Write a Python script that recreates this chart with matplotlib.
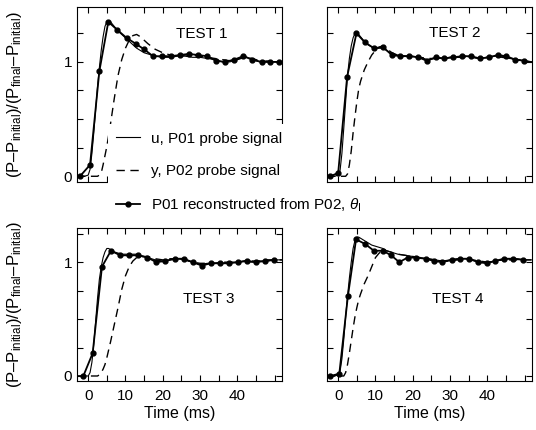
import matplotlib
matplotlib.use("Agg")
import matplotlib.pyplot as plt
from matplotlib.ticker import MultipleLocator

plt.rcParams['font.family'] = ['Liberation Sans', 'DejaVu Sans']
plt.rcParams['mathtext.fontset'] = 'custom'
plt.rcParams['mathtext.rm'] = 'Liberation Sans'
plt.rcParams['mathtext.it'] = 'Liberation Sans:italic'

# ---------------- data ----------------
t_line = [-3, -1, 0, 0.5, 1, 1.5, 2, 2.5, 3, 3.5, 4, 4.5, 5, 5.5, 6, 7, 8, 9, 10, 11,
          12, 13, 14, 15, 16, 18, 20, 22, 24, 26, 28, 30, 32, 34, 36, 38, 40, 42, 44, 46,
          48, 50, 52]

u1 = [0, 0, 0.01, 0.06, 0.2, 0.38, 0.58, 0.78, 0.95, 1.1, 1.22, 1.31, 1.35, 1.36, 1.35, 1.31, 1.27, 1.24, 1.21, 1.18,
      1.15, 1.12, 1.1, 1.08, 1.07, 1.05, 1.04, 1.04, 1.05, 1.05, 1.04, 1.04, 1.03, 1.02, 1.0, 1.0, 1.02, 1.05, 1.02, 1.0,
      1.01, 1.0, 1.0]
y1 = [0, 0, 0, 0, 0, 0, 0, 0, 0.01, 0.03, 0.1, 0.18, 0.26, 0.36, 0.46, 0.68, 0.88, 1.02, 1.12, 1.19,
      1.23, 1.24, 1.22, 1.19, 1.16, 1.11, 1.08, 1.06, 1.05, 1.06, 1.06, 1.05, 1.04, 1.03, 1.02, 1.01, 1.02, 1.04, 1.03, 1.01,
      1.0, 1.0, 1.0]
t_m1 = [-2.2, 0.5, 3.0, 5.4, 7.8, 10.3, 12.7, 15.0, 17.4, 19.8, 22.2, 24.6, 27.0, 29.5, 31.9, 34.3, 36.7, 39.2,
        41.6, 44.0, 46.5, 48.9, 51.3]
m1 = [0.0, 0.1, 0.92, 1.35, 1.28, 1.21, 1.16, 1.11, 1.05, 1.05, 1.05, 1.06, 1.07, 1.06, 1.05, 1.01, 1.0, 1.02,
      1.05, 1.02, 1.0, 1.0, 1.0]

u2 = [0, 0, 0.01, 0.05, 0.2, 0.42, 0.65, 0.88, 1.03, 1.14, 1.21, 1.25, 1.25, 1.24, 1.22, 1.18, 1.15, 1.13, 1.12, 1.12,
      1.12, 1.1, 1.08, 1.07, 1.06, 1.05, 1.05, 1.04, 1.02, 1.03, 1.03, 1.04, 1.04, 1.05, 1.04, 1.03, 1.04, 1.05, 1.05, 1.03,
      1.02, 1.01, 1.0]
y2 = [0, 0, 0, 0, 0, 0, 0, 0.02, 0.1, 0.22, 0.38, 0.52, 0.65, 0.76, 0.83, 0.93, 1.0, 1.06, 1.1, 1.13,
      1.14, 1.12, 1.09, 1.07, 1.06, 1.05, 1.05, 1.04, 1.03, 1.03, 1.03, 1.04, 1.04, 1.04, 1.04, 1.03, 1.04, 1.05, 1.04, 1.03,
      1.02, 1.01, 1.0]
t_m2 = [-2.1, 0.0, 2.4, 4.9, 7.2, 9.6, 12.0, 14.4, 16.7, 19.1, 21.5, 23.8, 26.2, 28.5, 30.9, 33.2, 35.6, 38.0,
        40.4, 42.8, 45.1, 47.5, 49.9]
m2 = [0.0, 0.03, 0.87, 1.25, 1.17, 1.12, 1.13, 1.06, 1.05, 1.05, 1.04, 1.01, 1.04, 1.03, 1.04, 1.05, 1.05, 1.03,
      1.04, 1.06, 1.05, 1.02, 1.01]

u3 = [0, 0, 0, 0.03, 0.12, 0.28, 0.48, 0.68, 0.85, 0.96, 1.04, 1.09, 1.12, 1.12, 1.11, 1.09, 1.08, 1.07, 1.07, 1.07,
      1.07, 1.07, 1.06, 1.05, 1.04, 1.02, 1.01, 1.02, 1.03, 1.02, 1.0, 0.98, 0.99, 0.99, 0.99, 1.0, 1.0, 1.01, 1.0, 1.01,
      1.01, 1.02, 1.02]
y3 = [0, 0, 0, 0, 0, 0, 0, 0, 0.01, 0.03, 0.06, 0.1, 0.16, 0.23, 0.3, 0.45, 0.6, 0.76, 0.88, 0.96,
      1.01, 1.04, 1.05, 1.05, 1.05, 1.03, 1.02, 1.03, 1.03, 1.02, 1.0, 0.99, 0.99, 0.99, 1.0, 1.0, 1.0, 1.01, 1.01, 1.01,
      1.02, 1.02, 1.02]
t_m3 = [-1.3, 1.2, 3.7, 6.1, 8.6, 11.0, 13.4, 15.9, 18.3, 20.7, 23.2, 25.6, 28.0, 30.5, 32.9, 35.3, 37.8, 40.2,
        42.6, 45.1, 47.5, 49.9]
m3 = [0.0, 0.2, 0.96, 1.1, 1.06, 1.06, 1.06, 1.04, 1.0, 1.01, 1.03, 1.03, 1.0, 0.97, 0.99, 0.99, 0.99, 1.0,
      1.01, 1.0, 1.01, 1.02]

u4 = [0, 0, 0.01, 0.04, 0.15, 0.32, 0.52, 0.7, 0.86, 1.0, 1.12, 1.19, 1.22, 1.22, 1.21, 1.19, 1.17, 1.15, 1.14, 1.13,
      1.12, 1.1, 1.09, 1.08, 1.07, 1.06, 1.05, 1.04, 1.03, 1.02, 1.01, 1.02, 1.03, 1.03, 1.02, 1.0, 1.0, 1.01, 1.02, 1.03,
      1.03, 1.02, 1.02]
y4 = [0, 0, 0, 0, 0, 0, 0.03, 0.1, 0.2, 0.31, 0.42, 0.52, 0.6, 0.67, 0.72, 0.81, 0.88, 0.96, 1.04, 1.08,
      1.1, 1.1, 1.09, 1.08, 1.07, 1.06, 1.05, 1.04, 1.03, 1.02, 1.01, 1.01, 1.02, 1.02, 1.02, 1.01, 1.0, 1.01, 1.02, 1.02,
      1.02, 1.02, 1.02]
t_m4 = [-2.1, 0.3, 2.6, 4.8, 7.2, 9.6, 12.0, 14.2, 16.4, 18.6, 20.8, 23.5, 25.7, 27.9, 30.5, 32.8, 35.0, 37.5,
        39.9, 42.1, 44.4, 47.0, 49.7]
m4 = [0.0, 0.02, 0.7, 1.2, 1.16, 1.1, 1.1, 1.06, 1.0, 1.04, 1.04, 1.03, 1.01, 1.0, 1.02, 1.03, 1.03, 1.0,
      0.99, 1.01, 1.03, 1.03, 1.02]

titles = ["TEST 1", "TEST 2", "TEST 3", "TEST 4"]
xticks = [0, 10, 20, 30, 40]
labels = ["u, P01 probe signal", "y, P02 probe signal",
          r"P01 reconstructed from P02, $\theta_{\rm I}$"]
ylabel = r"(P–P$_{\rm initial}$)/(P$_{\rm final}$–P$_{\rm initial}$)"

# ---------------- figure ----------------
W, H = 536, 430
fig = plt.figure(figsize=(W / 100, H / 100), dpi=100)

def px_axes(x0, x1, ytop, ybot):
    return fig.add_axes([x0 / W, 1 - ybot / H, (x1 - x0) / W, (ybot - ytop) / H])

axes = [px_axes(77, 282, 7, 182), px_axes(327, 532, 7, 182),
        px_axes(77, 282, 228, 381), px_axes(327, 532, 228, 381)]
ylims = [(-0.05, 1.48), (-0.05, 1.48), (-0.044, 1.3), (-0.044, 1.3)]
series = [(u1, y1, t_m1, m1), (u2, y2, t_m2, m2), (u3, y3, t_m3, m3), (u4, y4, t_m4, m4)]
title_pos = [(30.4, 1.24), (31.3, 1.25), (32.3, 0.68), (32, 0.68)]

handles = None
for i, ax in enumerate(axes):
    u, y, tm, m = series[i]
    hu, = ax.plot(t_line, u, color='black', lw=0.8)
    hy, = ax.plot(t_line, y, color='black', lw=1.0, dashes=(6, 4))
    hm, = ax.plot(tm, m, color='black', lw=1.3, marker='o', ms=3.5)
    if handles is None:
        handles = [hu, hy, hm]
    ax.set_xlim(-3, 52)
    ax.set_ylim(*ylims[i])
    ax.set_xticks(xticks)
    ax.xaxis.set_minor_locator(MultipleLocator(5))
    ax.set_yticks([0, 1])
    ax.yaxis.set_minor_locator(MultipleLocator(0.25))
    ax.tick_params(which='both', direction='in', top=True, right=True,
                   length=4, width=0.8, labelsize=11)
    ax.tick_params(axis='x', pad=6)
    if i < 2:
        ax.set_xticklabels([])
    else:
        ax.set_xlabel("Time (ms)", fontsize=11.5, labelpad=2)
    if i % 2 == 1:
        ax.set_yticklabels([])
    for s in ax.spines.values():
        s.set_linewidth(0.8)
    ax.text(title_pos[i][0], title_pos[i][1], titles[i], ha='center', va='center', fontsize=11)

for ax in (axes[0], axes[2]):
    bb = ax.get_position()
    fig.text(15 / W, bb.y0 + bb.height / 2, ylabel, rotation=90, ha='center', va='center', fontsize=12)

# legend belongs to the top-left axes, so the top-right axes is drawn over its box
leg = axes[0].legend(handles, labels, loc='upper left', bbox_to_anchor=(108 / W, 1 - 124 / H),
                     bbox_transform=fig.transFigure,
                     frameon=True, fancybox=False, facecolor='white', edgecolor='none', framealpha=1,
                     fontsize=11, handlelength=1.6, handletextpad=0.7, labelspacing=1.2,
                     borderpad=0.5, borderaxespad=0)

fig.savefig("out.png", dpi=100)
